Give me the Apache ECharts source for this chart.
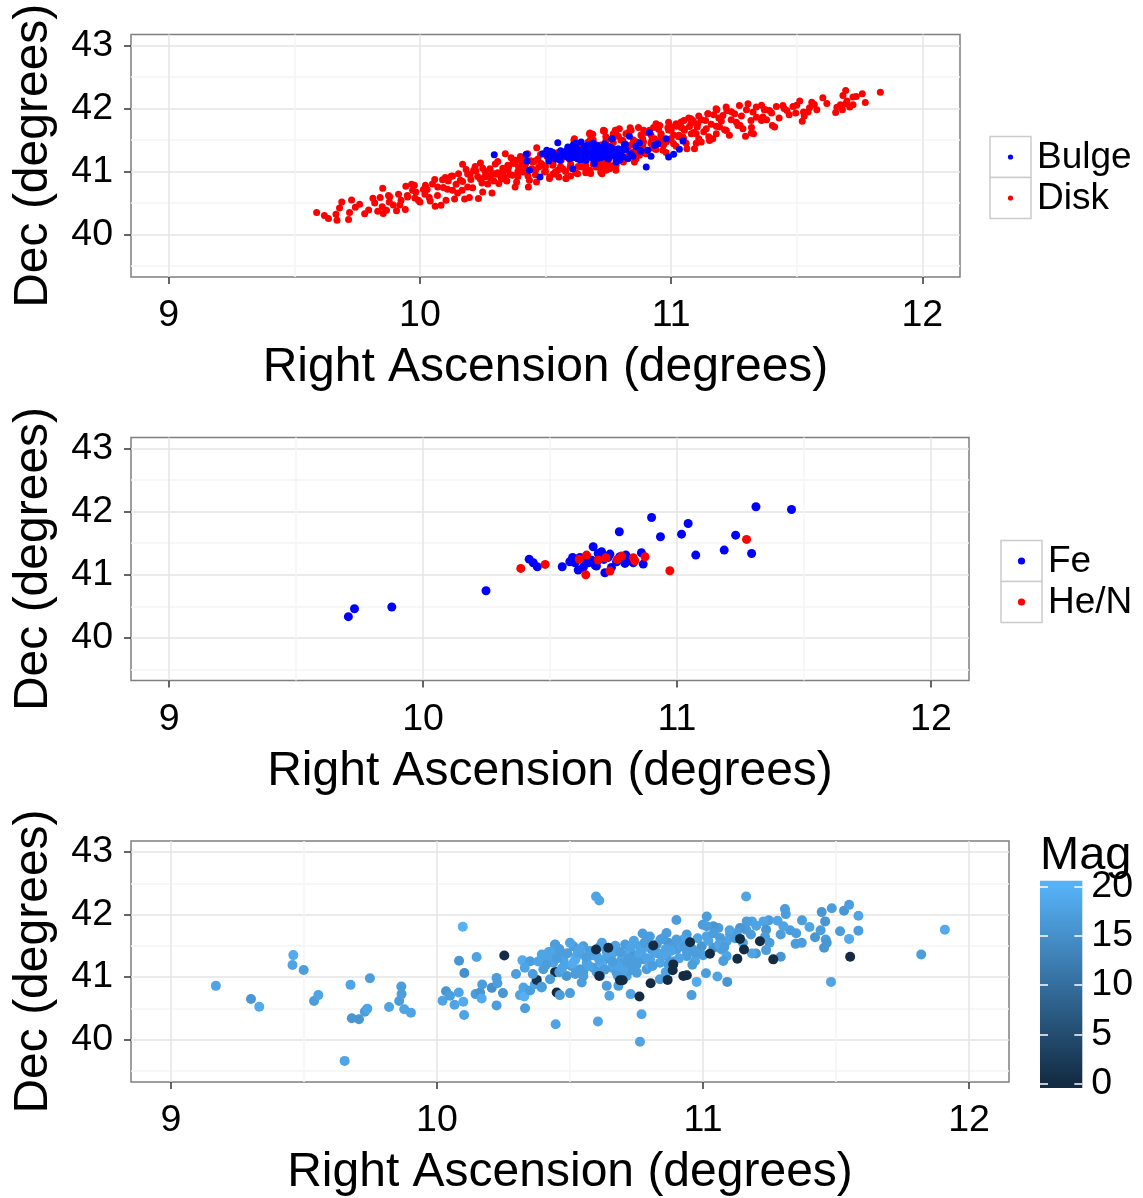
<!DOCTYPE html>
<html><head><meta charset="utf-8">
<script src="https://cdn.jsdelivr.net/npm/echarts@6/dist/echarts.min.js"></script>
<style>html,body{margin:0;padding:0;background:#fff}#c{width:1143px;height:1198px}</style>
</head><body><div id="c"></div>
<script>
// ---------- tick / scale data ----------
const xTicks = [9, 10, 11, 12];
const xMinor = [9.5, 10.5, 11.5];
const yTicks = [40, 41, 42, 43];
const yMinor = [39.5, 40.5, 41.5, 42.5];
const xRange = [8.85, 12.15];
const yRange = [39.325, 43.175];
const magTicks = [0, 5, 10, 15, 20];
const magRange = [-0.46, 20.61];
const magColors = ['#132B43', '#56B1F7'];
const legend1 = ['Bulge', 'Disk'];
const legend1Colors = ['#0000FF', '#FF0000'];
const legend2 = ['Fe', 'He/N'];
const legend2Colors = ['#0000FF', '#FF0000'];
const xTitle = 'Right Ascension (degrees)';
const yTitle = 'Dec (degrees)';
const magTitle = 'Mag';

// ---------- panel 1 : Disk (red) / Bulge (blue) [RA, Dec] ----------
const diskPts = [
[9.589,40.348],[9.636,40.253],[9.666,40.322],[9.670,40.227],[9.689,40.517],[9.716,40.237],[9.728,40.549],[9.743,40.433],
[9.796,40.390],[9.813,40.575],[9.832,40.369],[9.842,40.586],[9.852,40.734],[9.854,40.332],[9.867,40.385],[9.875,40.618],
[9.878,40.517],[9.894,40.470],[9.907,40.375],[9.915,40.639],[9.925,40.544],[9.942,40.396],[9.944,40.765],[9.951,40.596],
[9.967,40.797],[9.971,40.702],[9.978,40.781],[9.984,40.676],[9.994,40.544],[10.000,40.517],[10.014,40.713],[10.022,40.781],
[10.029,40.713],[10.037,40.586],[10.041,40.533],[10.059,40.871],[10.061,40.449],[10.071,40.755],[10.084,40.464],[10.093,40.744],
[10.101,40.903],[10.104,40.544],[10.113,40.850],[10.124,40.924],[10.130,40.702],[10.138,40.565],[10.144,40.797],[10.154,40.966],
[10.161,40.861],[10.168,40.702],[10.170,41.114],[10.178,40.565],[10.184,41.030],[10.190,40.755],[10.197,40.586],[10.203,40.871],
[10.214,41.019],[10.223,41.008],[10.233,40.570],[10.241,41.135],[10.247,40.818],[10.250,40.676],[10.257,40.913],[10.270,40.940],
[10.279,41.045],[10.287,40.660],[10.294,40.850],[10.303,40.956],[10.314,40.808],[10.323,40.903],[10.332,40.993],[10.340,41.283],
[10.346,40.850],[10.353,41.072],[10.363,41.220],[10.369,40.940],[10.376,41.125],[10.385,40.834],[10.393,41.072],[10.403,41.167],
[10.409,40.993],[10.420,41.114],[10.429,41.283],[10.436,40.861],[10.446,41.045],[10.456,41.167],[10.465,41.378],[10.473,41.072],
[10.482,41.125],[10.496,40.993],[10.505,41.241],[10.516,40.887],[10.529,41.098],[10.539,40.993],[10.553,40.913],[10.562,41.178],
[10.582,40.887],[10.598,41.072],[10.615,41.521],[10.628,40.966],[10.646,41.204],[10.662,41.019],[10.675,41.600],[10.688,41.590],
[10.701,41.072],[10.721,41.125],[10.731,41.642],[10.741,41.494],[10.755,41.045],[10.771,41.547],[10.781,41.098],[10.794,41.679],
[10.814,41.389],[10.828,41.600],
[11.833,42.260],[11.695,42.287],[11.684,42.208],[11.724,42.181],[11.737,42.192],[11.761,42.234],[11.773,42.097],[11.674,42.060],
[11.695,42.076],[11.711,42.023],[11.724,42.060],[11.655,41.938],[11.682,41.980],[11.604,42.171],[11.570,42.065],[11.551,42.012],
[11.545,41.943],[11.527,41.943],[11.522,41.796],[11.512,42.118],[11.496,41.928],[11.485,42.033],[11.461,41.970],[11.445,42.049],
[11.419,42.033],[11.412,41.706],[11.392,41.970],[11.376,41.980],[11.365,41.864],[11.360,41.811],[11.339,42.023],[11.326,41.943],
[11.319,41.611],[11.306,42.076],[11.296,41.558],[11.286,41.679],[11.272,42.049],[11.266,41.732],[11.253,41.917],[11.239,41.822],
[11.219,42.023],[11.213,41.663],[11.206,41.891],[11.193,41.706],[11.182,41.980],[11.166,41.521],[11.153,41.494],[11.146,41.917],
[11.137,41.811],[11.120,41.468],[11.106,41.758],[11.100,41.600],[11.093,41.362],[11.087,41.811],[11.073,41.716],[11.063,41.362],
[11.053,41.653],[11.047,41.547],[11.040,41.785],[11.031,41.574],[11.020,41.759],[11.010,41.442],[11.000,41.653],[10.994,41.732],
[10.980,41.468],[10.967,41.336],[10.960,41.574],[10.940,41.759],[10.934,41.521],[10.927,41.389],[10.914,41.653],[10.901,41.336],
[10.887,41.521],[10.874,41.257],[10.863,41.468],[10.854,41.151],[10.841,41.653],[10.828,41.389],[10.808,41.494],[10.794,41.283],
[10.781,41.653],[10.768,41.072],[10.755,41.230],[10.735,41.642],[10.725,40.966],[10.741,41.019],
[10.677,41.611],[10.731,41.653],[10.778,41.653],[10.837,41.695],[10.891,41.653],[10.955,41.732],[10.987,41.695],[11.051,41.811],
[11.079,41.838],[11.104,41.706],[11.147,41.917],[11.179,41.996],[11.222,41.970],[11.232,41.574],[11.275,41.732],[11.318,41.811],
[11.328,41.600],[11.371,41.980],[11.403,41.732],[10.613,41.495],[10.645,41.072],[10.677,41.019],[10.710,41.072],[10.741,41.151],
[10.774,41.098],[10.816,41.230],[10.848,41.310],[10.887,41.415],[10.923,41.494],[10.955,41.442],[10.998,41.521],[10.517,40.913],
[10.549,41.019],[10.581,40.887],[10.464,40.834],[10.421,40.993],[10.432,40.755],[10.379,40.755],[10.336,40.913],
[10.20,40.95],[10.22,41.08],[10.24,40.88],[10.26,41.00],[10.28,40.90],[10.30,41.12],[10.31,40.98],[10.33,41.05],[10.35,41.10],
[10.36,40.95],[10.38,41.18],[10.39,41.00],[10.41,41.08],[10.42,41.20],[10.43,40.93],[10.45,41.15],[10.46,41.02],[10.47,41.20],
[10.49,41.10],[10.50,41.00],[10.51,41.25],[10.53,41.12],[10.54,40.96],[10.56,41.08],[10.57,41.30],[10.58,41.00],[10.60,41.12],
[10.61,41.35],[10.62,40.98],[10.63,41.20],[10.64,41.40],[10.66,41.10],[10.67,41.47],[10.68,40.97],[10.69,41.50],[10.70,41.15],
[10.72,41.42],[10.73,41.05],[10.74,41.55],[10.75,41.12],[10.77,41.46],[10.78,41.20],[10.79,41.56],[10.80,41.30],[10.82,41.60],
[10.83,41.25],[10.85,41.50],[10.86,41.33],[10.88,41.58],[10.89,41.30],[10.90,41.62],[10.92,41.45],[10.93,41.70],[10.94,41.35],
[10.96,41.60],[10.97,41.42],[10.99,41.66],[11.00,41.50],[11.02,41.72],[11.03,41.55],[11.05,41.68],[11.06,41.45],[11.08,41.77],
[11.09,41.62],[11.11,41.52],[11.12,41.82],[11.14,41.68],[11.16,41.75],[11.18,41.60],[11.19,41.85],
[9.92,40.47],[9.95,40.62],[9.98,40.58],[10.02,40.64],[10.05,40.80],[10.07,40.62],[10.09,40.87],[10.11,40.72],[10.13,40.93],
[10.15,40.66],[10.17,40.84],[10.19,40.96],[10.21,40.74],[10.23,40.92],[10.25,41.05],[10.27,40.80],[10.29,40.97],[10.31,41.16],
[10.33,40.88],[10.35,41.02],[10.37,41.13],[10.39,40.92],[10.40,41.24],[10.42,41.03],[10.44,41.17],[10.46,40.95],[10.48,41.27],
[10.50,41.08],[10.52,41.18],[10.53,40.96],[10.55,41.30],[10.57,41.04],[10.59,41.22],[10.60,40.93],[10.62,41.43],[10.63,41.08],
[10.65,41.25],[10.66,40.98],[10.68,41.52],[10.69,41.12],[10.71,41.33],[10.72,40.99],[10.74,41.45],[10.75,41.18],[10.77,41.60],
[10.78,41.02],[10.80,41.50],[10.81,41.15],[10.83,41.62],[10.84,41.42],[10.86,41.20],[10.87,41.70],[10.89,41.47],[10.90,41.28],
[10.92,41.58],[10.93,41.37],[10.95,41.67],[10.96,41.50],[10.98,41.30],[10.99,41.78],[11.01,41.58],[11.02,41.40],[11.04,41.70],
[11.05,41.52],[11.07,41.85],[11.08,41.60],[11.10,41.45],[11.11,41.88],[11.13,41.63],[11.15,41.55],[11.17,41.90],[11.18,41.72],
[11.20,41.80],[11.22,41.65],[11.24,41.95],[11.26,41.78],[11.28,41.88],[11.30,41.98],[11.32,41.70],[11.34,41.86],[11.36,42.05],
[11.38,41.82],[11.40,41.93],[11.43,41.85],[11.45,42.00],[11.47,41.90],[11.50,42.05],[11.53,41.88],[11.56,42.10],[11.58,41.98],
[11.62,42.08],[11.66,42.02],[11.70,42.12],[9.62,40.30],[9.68,40.42],[9.72,40.35],[9.76,40.48],[9.78,40.33],[9.82,40.50],
[9.85,40.44],[9.88,40.60]
];
const bulgePts = [
[10.296,41.267],[10.423,41.273],[10.427,41.167],[10.436,41.019],[10.478,40.913],[10.489,41.283],[10.505,41.336],[10.513,41.167],
[10.529,41.241],[10.549,41.457],[10.558,41.178],[10.569,41.283],[10.589,41.389],[10.595,41.204],[10.608,41.045],[10.619,41.336],
[10.628,41.204],[10.642,41.468],[10.655,41.389],[10.662,41.178],[10.675,41.336],[10.686,41.257],[10.695,41.125],[10.705,41.415],
[10.715,41.283],[10.728,41.389],[10.739,41.230],[10.748,41.336],[10.764,41.521],[10.771,41.283],[10.781,41.151],[10.794,41.336],
[10.808,41.230],[10.818,41.431],
[10.914,41.621],[10.834,41.558],[10.765,41.521],[10.980,41.521],[11.047,41.484],[11.033,41.352],[11.010,41.273],[10.990,41.230],
[10.901,41.072],[10.920,41.241],[10.907,41.336],[10.874,41.452],[10.877,41.336],[10.947,41.442],[10.934,41.415],[10.848,41.241],
[10.828,41.204],[10.814,41.431],[10.794,41.178],[10.774,41.310],[10.755,41.362],[10.728,41.257],[10.735,41.442],
[10.56,41.33],[10.58,41.24],[10.59,41.38],[10.60,41.30],[10.61,41.22],[10.62,41.40],[10.63,41.28],[10.64,41.18],[10.65,41.35],
[10.66,41.26],[10.67,41.42],[10.68,41.30],[10.69,41.20],[10.70,41.36],[10.71,41.25],[10.72,41.32],[10.73,41.40],[10.74,41.27],
[10.75,41.20],[10.76,41.38],[10.77,41.30],[10.78,41.24],[10.79,41.36],[10.62,41.30],[10.66,41.32],[10.70,41.28],[10.64,41.25],
[10.68,41.38],[10.72,41.22],[10.60,41.36],[10.57,41.27],[10.53,41.30],[10.54,41.20],[10.51,41.24],[10.82,41.35],[10.84,41.28],
[10.86,41.40],[10.88,41.32],
[10.58,41.32],[10.60,41.26],[10.61,41.42],[10.63,41.35],[10.64,41.30],[10.65,41.22],[10.66,41.40],[10.67,41.28],[10.68,41.24],
[10.69,41.33],[10.70,41.42],[10.71,41.30],[10.72,41.37],[10.73,41.26],[10.74,41.34],[10.75,41.29],[10.76,41.25],[10.77,41.36],
[10.78,41.31],[10.80,41.27],[10.81,41.34],[10.63,41.24],[10.67,41.35],[10.71,41.21],[10.75,41.40],[10.79,41.22],[10.55,41.25],
[10.52,41.32],[10.62,41.45],[10.69,41.45]
];

// ---------- panel 2 : Fe (blue) / He/N (red) [RA, Dec] ----------
const fePts = [
[9.706,40.336],[9.730,40.462],[9.877,40.489],[10.248,40.747],[10.418,41.248],[10.434,41.190],[10.450,41.127],[10.548,41.127],
[10.578,41.206],[10.589,41.275],[10.611,41.074],[10.624,41.243],[10.631,41.117],[10.651,41.190],[10.670,41.444],[10.677,41.153],
[10.690,41.338],[10.703,41.364],[10.712,41.243],[10.716,41.032],[10.736,41.328],[10.742,41.117],[10.762,41.206],[10.773,41.681],
[10.775,41.285],[10.799,41.312],[10.801,41.206],[10.860,41.349],[10.867,41.169],[10.900,41.908],[10.935,41.602],[11.018,41.644],
[11.044,41.813],[11.074,41.312],[11.186,41.391],[11.231,41.628],[11.294,41.338],[11.311,42.077],[11.451,42.034],
[10.598,41.190],[10.664,41.232],[10.683,41.138],[10.729,41.275],[10.795,41.180],[10.828,41.190],[10.618,41.275]
];
const henPts = [
[10.385,41.101],[10.481,41.164],[10.615,41.248],[10.641,40.999],[10.644,41.312],[10.690,41.233],[10.720,41.270],[10.736,41.059],
[10.765,41.243],[10.782,41.296],[10.828,41.270],[10.834,41.222],[10.874,41.285],[10.972,41.064],[11.274,41.560]
];

// ---------- panel 3 : [RA, Dec, Mag] ----------
const magPts = [
[9.169,40.861,18],[9.301,40.650,16],[9.332,40.528,19],[9.460,41.352,19],[9.457,41.194,18],[9.499,41.115,17],[9.538,40.618,17],
[9.554,40.713,18],[9.653,39.662,18],[9.675,40.877,18],[9.680,40.343,16],[9.707,40.327,16],[9.729,40.449,17],[9.738,40.497,18],
[9.748,40.983,17],[9.820,40.523,18],[9.858,40.618,17],[9.866,40.851,17],[9.867,40.729,17],[9.877,40.486,18],[9.902,40.433,18],
[10.021,40.623,18],[10.034,40.776,16],[10.049,40.703,17],[10.066,40.560,18],[10.082,40.755,18],[10.099,40.608,19],[10.102,40.396,18],
[10.097,41.807,20],[10.083,41.263,16],[10.103,41.067,15],[10.149,41.321,18],[10.145,40.729,17],[10.162,40.755,16],[10.168,40.660,19],
[10.170,40.882,17],[10.206,40.829,15],[10.224,40.988,17],[10.227,40.903,17],[10.224,40.549,17],[10.248,40.745,16],[10.253,41.347,0],
[10.297,41.051,17],[10.312,40.713,18],[10.321,41.268,19],[10.325,40.835,18],[10.328,40.692,20],[10.331,40.502,17],[10.350,41.252,17],
[10.350,40.787,17],[10.368,40.887,18],[10.375,40.956,1],[10.394,41.363,18],[10.394,40.845,17],[10.422,41.326,18],[10.444,41.516,17],
[10.444,41.083,0],[10.446,40.248,18],[10.450,40.755,0],
[10.598,42.287,18],[10.610,42.224,18],[10.605,40.291,18],[10.769,40.407,18],[10.763,39.968,18],
[11.162,42.287,18],[10.900,41.912,17],[10.957,40.713,17],[10.976,40.924,19],[11.054,41.009,18],[11.091,40.924,16],[11.011,41.062,17],
[11.308,42.087,17],[11.311,42.007,17],[11.372,41.907,17],[11.446,42.039,16],[11.484,42.102,17],[11.530,42.060,16],[11.549,42.155,17],
[11.584,41.981,18],[11.584,41.743,17],[11.549,41.611,19],[11.515,41.733,17],[11.459,41.891,16],[11.442,41.749,17],[11.421,41.638,16],
[11.461,41.601,17],[11.465,41.548,16],[11.455,41.469,16],[11.481,40.924,18],[11.371,41.548,17],[11.348,41.532,17],[11.327,41.749,17],
[11.292,41.680,17],[11.302,41.812,18],[11.292,41.326,16],[11.247,41.907,17],[11.227,41.891,18],[11.237,41.759,16],[11.233,41.643,17],
[11.237,41.432,17],[11.199,41.379,16],[11.184,41.379,18],[11.184,41.891,18],[11.164,41.891,17],[11.162,41.759,17],[11.139,41.785,16],
[11.127,41.706,17],[11.102,41.680,17],[11.089,41.574,18],[11.064,41.627,17],[11.058,41.785,17],[11.039,41.812,16],[11.014,41.812,17],
[10.999,41.838,17],[11.014,41.653,18],[11.039,41.469,16],[11.070,41.442,17],[11.089,41.336,18],[11.076,41.257,17],[10.995,41.495,16],
[10.976,41.363,17],[10.970,41.257,18],[10.939,41.336,17],[10.939,41.680,17],[10.914,41.548,18],[10.901,41.442,17],[10.870,41.548,16],
[10.863,41.336,17],[10.838,41.231,18],[10.838,40.967,17],[10.826,41.521,17],[10.807,41.442,16],[10.788,41.601,17],[10.773,41.696,17],
[10.763,41.495,18],[10.751,41.336,17],[10.732,41.178,17],[10.726,41.416,16],[10.707,41.521,17],[10.694,41.284,18],[10.682,40.861,17],
[10.669,41.442,17],[10.657,41.152,18],[10.638,41.416,17],[10.638,40.861,17],[10.625,41.257,16],[10.613,41.020,17],[10.600,41.336,18],
[10.588,41.152,17],[10.575,41.416,17],[10.563,41.231,18],[10.544,40.914,17],[10.538,41.125,17],[10.525,41.336,18],[10.513,41.495,17],
[10.506,41.178,17],[10.487,41.020,16],[10.475,41.284,18],[10.462,41.416,17],[10.444,41.521,17],[10.437,41.231,18],[10.425,40.967,17],
[10.412,41.310,18],[10.400,41.125,17],[10.393,40.835,17],[10.675,41.072,17],[10.713,41.020,18],[10.751,41.072,17],[10.788,41.125,17],
[10.801,41.284,18],[10.776,41.284,17],[10.701,41.231,17],[10.613,41.495,18],[10.550,41.495,17],[10.863,41.706,17],[10.888,41.495,17],
[10.926,41.601,18],[11.014,41.970,17],[10.939,41.416,17],[10.728,40.729,18],[10.648,40.703,18],[10.500,40.745,17],[10.462,40.713,17],
[11.909,41.759,19],[11.820,41.363,17],
[10.48,41.20,18],[10.52,41.28,19],[10.55,41.10,17],[10.58,41.35,18],[10.62,41.20,19],[10.65,41.30,17],[10.68,41.18,18],[10.71,41.35,19],
[10.74,41.25,17],[10.77,41.42,18],[10.80,41.20,19],[10.83,41.38,17],[10.86,41.45,18],[10.89,41.25,17],[10.92,41.50,18],[10.96,41.45,17],
[10.53,41.40,18],[10.60,41.08,17],[10.66,41.38,18],[10.72,41.10,17],[10.79,41.50,18],[10.85,41.62,17],[10.42,41.40,18],[10.46,41.08,17],
[10.41,41.20,17],[10.43,41.40,18],[10.45,41.30,17],[10.47,41.14,18],[10.49,41.38,17],[10.51,41.22,19],[10.52,41.05,17],[10.54,41.45,18],
[10.56,41.32,17],[10.57,41.18,18],[10.59,41.42,17],[10.61,41.28,18],[10.63,41.12,17],[10.64,41.35,18],[10.66,41.25,17],[10.67,41.50,18],
[10.69,41.40,17],[10.70,41.10,18],[10.72,41.30,17],[10.73,41.48,18],[10.75,41.20,17],[10.76,41.38,18],[10.78,41.55,17],[10.79,41.30,18],
[10.81,41.18,17],[10.82,41.40,18],[10.84,41.60,17],[10.85,41.35,18],[10.87,41.20,17],[10.88,41.42,18],[10.90,41.60,17],[10.91,41.30,18],
[10.93,41.48,17],[10.95,41.55,18],[10.97,41.40,17],[10.98,41.62,18],[11.00,41.35,17],[11.02,41.58,18],[11.04,41.70,17],[11.06,41.52,18],
[11.08,41.48,17],[11.10,41.75,18],[11.12,41.62,17],[11.15,41.55,18],[11.18,41.68,17],[11.20,41.82,18],[11.25,41.55,17],[11.28,41.90,18],
[11.35,41.70,17],[11.40,41.80,18],[10.46,41.45,17],[10.50,41.55,18],[10.55,41.02,17],[10.62,41.55,18],[10.68,41.02,17],[10.74,41.58,18],
[10.80,41.65,17],[10.86,41.08,18],[10.96,41.20,17],[10.38,41.25,18],[10.36,41.05,17],[10.33,41.15,18],
[10.761,40.692,0],[10.803,40.903,0],[10.867,40.956,0],[10.688,40.951,0],[10.698,40.951,0],[10.926,41.020,0],[10.939,41.030,0],
[10.888,41.204,0],[10.886,41.109,0],[10.951,41.558,0],[11.026,41.373,0],[11.129,41.294,0],[11.154,41.442,0],[11.139,41.611,0],
[11.214,41.574,0],[11.264,41.284,0],[11.553,41.326,0],[10.598,41.442,0],[10.644,41.469,0],[10.813,41.506,0],[10.610,41.020,0]
];

// ---------- rendering ----------
const FONT = '"Liberation Sans", Arial, Helvetica, sans-serif';
const TICK_FS = 37.5, TITLE_FS = 48, LEG_FS = 37;
const panels = [
  {left: 131, top: 34.5, width: 829, height: 242.5},
  {left: 131, top: 437.5, width: 838, height: 243},
  {left: 131, top: 841, width: 878, height: 243}
];
const grids = panels.map(p => ({left: p.left, top: p.top, width: p.width, height: p.height,
  show: true, backgroundColor: '#FFFFFF', borderColor: '#7F7F7F', borderWidth: 1.5}));
const offOf = v => (magRange[1] - v) / (magRange[1] - magRange[0]);
grids.push({left: 1040, top: 880.7, width: 42.3, height: 207.3, show: true, borderWidth: 0,
  backgroundColor: {type: 'linear', x: 0, y: 0, x2: 0, y2: 1, colorStops: [
    {offset: 0, color: magColors[1]}, {offset: offOf(20), color: magColors[1]},
    {offset: offOf(0), color: magColors[0]}, {offset: 1, color: magColors[0]}]}});

const xAxes = [], yAxes = [];
panels.forEach((p, i) => {
  xAxes.push({gridIndex: i, type: 'value', min: xRange[0], max: xRange[1],
    name: xTitle, nameLocation: 'middle', nameGap: 67, nameMoveOverlap: false,
    nameTextStyle: {fontSize: TITLE_FS, color: '#000', fontFamily: FONT},
    axisLine: {show: false},
    axisTick: {show: true, customValues: xTicks, length: 7, lineStyle: {color: '#333', width: 1.5}},
    axisLabel: {customValues: xTicks, fontSize: TICK_FS, color: '#000', fontFamily: FONT, margin: 20},
    splitLine: {show: true, lineStyle: {color: '#E5E5E5', width: 1.5}}});
  xAxes.push({gridIndex: i, type: 'value', min: xRange[0], max: xRange[1], position: 'bottom',
    axisLine: {show: false}, axisTick: {show: false, customValues: xMinor},
    axisLabel: {show: false, customValues: xMinor},
    splitLine: {show: true, lineStyle: {color: '#F5F5F5', width: 1.5}}});
  yAxes.push({gridIndex: i, type: 'value', min: yRange[0], max: yRange[1],
    name: yTitle, nameLocation: 'middle', nameGap: 73, nameRotate: 90, nameMoveOverlap: false,
    nameTextStyle: {fontSize: TITLE_FS, color: '#000', fontFamily: FONT},
    axisLine: {show: false},
    axisTick: {show: true, customValues: yTicks, length: 7, lineStyle: {color: '#333', width: 1.5}},
    axisLabel: {customValues: yTicks, fontSize: TICK_FS, color: '#000', fontFamily: FONT, margin: 18},
    splitLine: {show: true, lineStyle: {color: '#E5E5E5', width: 1.5}}});
  yAxes.push({gridIndex: i, type: 'value', min: yRange[0], max: yRange[1], position: 'left',
    axisLine: {show: false}, axisTick: {show: false, customValues: yMinor},
    axisLabel: {show: false, customValues: yMinor},
    splitLine: {show: true, lineStyle: {color: '#F5F5F5', width: 1.5}}});
});
// colour bar axes
xAxes.push({gridIndex: 3, type: 'value', min: 0, max: 1, show: false});
yAxes.push({gridIndex: 3, type: 'value', min: magRange[0], max: magRange[1], position: 'left',
  name: magTitle, nameLocation: 'end', nameGap: 1, nameMoveOverlap: false,
  nameTextStyle: {fontSize: 47, color: '#000', fontFamily: FONT, align: 'left', verticalAlign: 'bottom'},
  axisLine: {show: false},
  axisTick: {show: true, inside: true, customValues: magTicks, length: 8, lineStyle: {color: '#FFFFFF', width: 1.5}},
  axisLabel: {show: false, customValues: magTicks}, splitLine: {show: false}});
yAxes.push({gridIndex: 3, type: 'value', min: magRange[0], max: magRange[1], position: 'right',
  axisLine: {show: false},
  axisTick: {show: true, inside: true, customValues: magTicks, length: 8, lineStyle: {color: '#FFFFFF', width: 1.5}},
  axisLabel: {customValues: magTicks, fontSize: TICK_FS, color: '#000', fontFamily: FONT, margin: 9},
  splitLine: {show: false}});

const sc = (name, xi, yi, data, size, color) => ({type: 'scatter', name, xAxisIndex: xi, yAxisIndex: yi,
  data, symbolSize: size, itemStyle: {color, opacity: 1}, silent: true, emphasis: {disabled: true}});

const series = [
  sc(legend1[1], 0, 0, diskPts, 7, legend1Colors[1]),
  sc(legend1[0], 0, 0, bulgePts, 7, legend1Colors[0]),
  sc(legend2[0], 2, 2, fePts, 9, legend2Colors[0]),
  sc(legend2[1], 2, 2, henPts, 9, legend2Colors[1]),
  Object.assign(sc('Mag', 4, 4, magPts, 10, '#56B1F7'), {encode: {x: 0, y: 1}})
];

// legend keys (ggplot-style boxed keys), built from the legend arrays
function legendGroup(names, colors, boxX, boxY, dotR) {
  const els = [];
  names.forEach((n, i) => {
    const y0 = boxY + i * 41;
    els.push({type: 'rect', shape: {x: boxX, y: y0, width: 41, height: 41},
      style: {fill: '#FFFFFF', stroke: '#CCCCCC', lineWidth: 1.5}, silent: true});
    els.push({type: 'circle', shape: {cx: boxX + 20.5, cy: y0 + 20.5, r: dotR},
      style: {fill: colors[i]}, silent: true});
    els.push({type: 'text', x: boxX + 47, y: y0 + 21,
      style: {text: n, fontSize: LEG_FS, fontFamily: FONT, fill: '#000', verticalAlign: 'middle', align: 'left'},
      silent: true});
  });
  return els;
}

const option = {
  animation: false,
  backgroundColor: '#FFFFFF',
  grid: grids,
  xAxis: xAxes,
  yAxis: yAxes,
  series,
  visualMap: [{type: 'continuous', show: false, seriesIndex: 4, dimension: 2, min: 0, max: 20,
    inRange: {color: magColors}}],
  graphic: [].concat(legendGroup(legend1, legend1Colors, 990, 136.5, 2.6),
                     legendGroup(legend2, legend2Colors, 1001, 540.5, 3.6))
};
const chart = echarts.init(document.getElementById('c'), null, {renderer: 'canvas'});
chart.setOption(option);
</script></body></html>
